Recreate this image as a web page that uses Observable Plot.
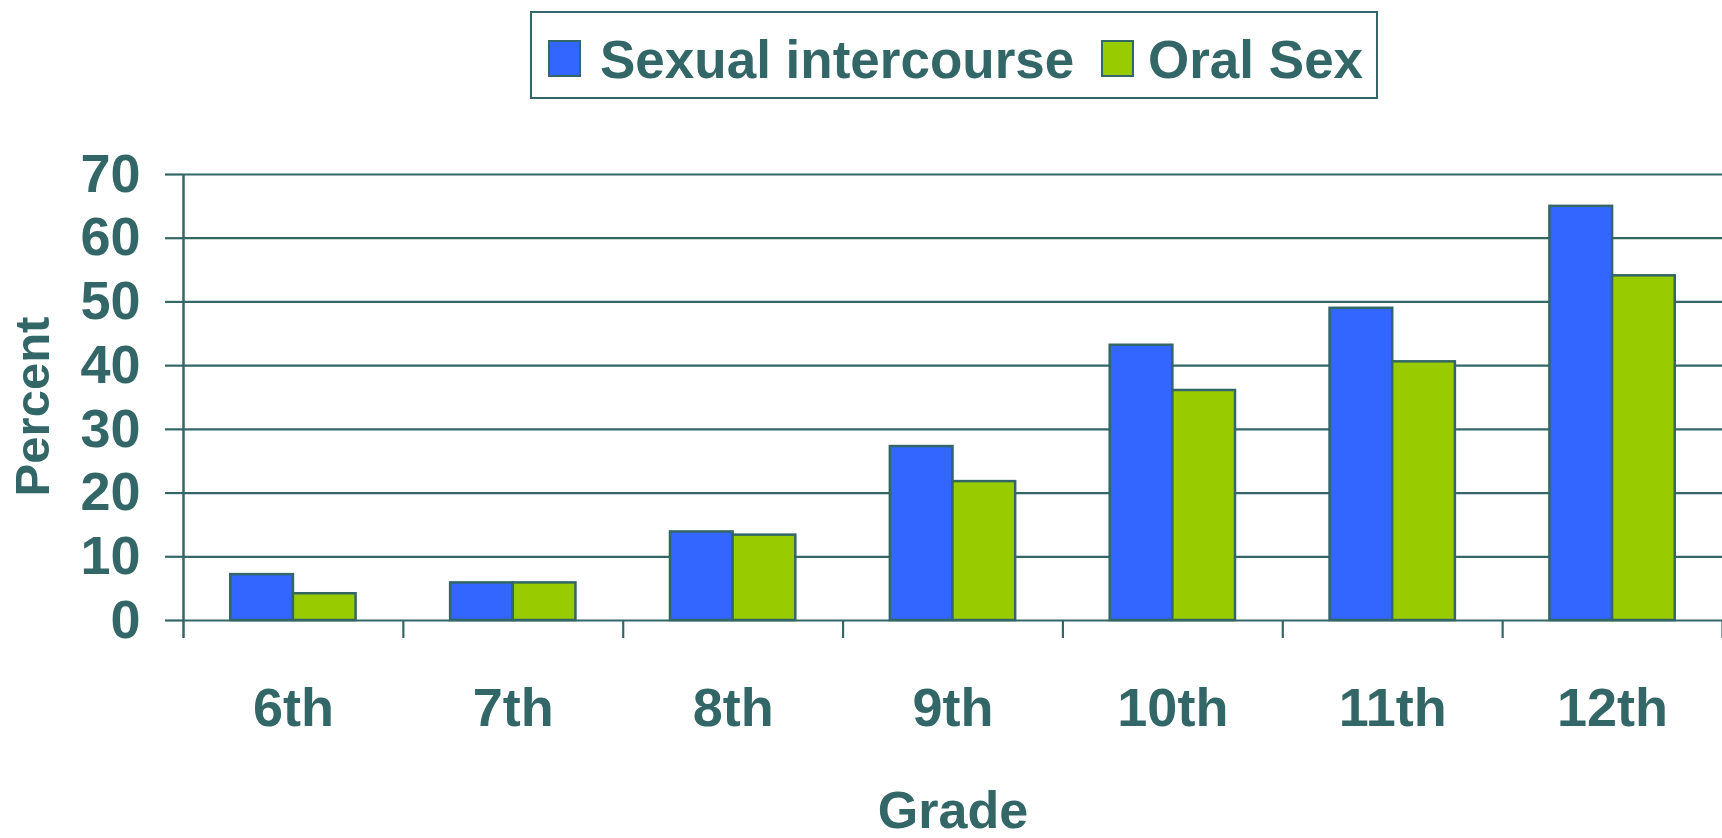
<!DOCTYPE html>
<html><head><meta charset="utf-8">
<script src="https://cdn.jsdelivr.net/npm/d3@7"></script>
<script src="https://cdn.jsdelivr.net/npm/@observablehq/plot@0.6"></script>
<style>
body{margin:0;background:#fff;}
#wrap{position:relative;width:1722px;height:838px;font-family:"Liberation Sans",Arial,sans-serif;font-weight:bold;color:#336666;overflow:hidden;}
#legend{position:absolute;left:530px;top:11px;width:844px;height:84px;border:2px solid #336666;background:#fff;z-index:2;}
.sw{position:absolute;top:27px;width:29px;height:33px;border:2px solid #336666;}
.lab{position:absolute;font-size:53px;line-height:1;top:20px;white-space:nowrap;}
#chart{position:absolute;left:0;top:0;}
</style></head>
<body>
<div id="wrap">
  <div id="legend"></div>
  <div id="chart"></div>
</div>
<script>
const grades = ["6th", "7th", "8th", "9th", "10th", "11th", "12th"];
const series = ["Sexual intercourse", "Oral Sex"];
const intercourse = [7.2, 5.9, 13.9, 27.3, 43.2, 49.0, 65.0];
const oralSex = [4.2, 5.9, 13.4, 21.8, 36.1, 40.6, 54.1];
const colors = ["#3366FF", "#99CC00"];
const yTicks = [0, 10, 20, 30, 40, 50, 60, 70];

const ink = "#336666";
const yMin = -2.825;
const gap = 0.215, barW = 0.285;

const values = [intercourse, oralSex];
const rows = [];
grades.forEach((g, i) => {
  series.forEach((s, k) => {
    rows.push({grade: g, series: s, value: values[k][i], x1: i + gap + k * barW, x2: i + gap + (k + 1) * barW});
  });
});
const boundaries = d3.range(1, grades.length + 1);

// legend
const legend = document.getElementById("legend");
const legendPos = [{sw: 16, lab: 68}, {sw: 569, lab: 616}];
series.forEach((s, k) => {
  const sw = document.createElement("div");
  sw.className = "sw";
  sw.style.left = legendPos[k].sw + "px";
  sw.style.background = colors[k];
  legend.appendChild(sw);
  const lab = document.createElement("div");
  lab.className = "lab";
  lab.style.left = legendPos[k].lab + "px";
  lab.textContent = s;
  legend.appendChild(lab);
});

const chart = Plot.plot({
  width: 1722,
  height: 838,
  marginLeft: 183,
  marginRight: 0,
  marginTop: 174,
  marginBottom: 200,
  style: {fontFamily: "'Liberation Sans', Arial, sans-serif", fontWeight: "bold", fontSize: "54px", color: ink, background: "transparent", overflow: "visible"},
  x: {type: "linear", domain: [0, grades.length]},
  y: {domain: [yMin, 70]},
  color: {domain: series, range: colors},
  marks: [
    Plot.ruleY(yTicks, {stroke: ink, strokeWidth: 2.2}),
    Plot.ruleX(boundaries, {y1: yMin, y2: 0, stroke: ink, strokeWidth: 2.2}),
    Plot.rect(rows, {x1: "x1", x2: "x2", y1: 0, y2: "value", fill: "series", stroke: ink, strokeWidth: 2.5}),
    Plot.ruleX([0], {stroke: ink, strokeWidth: 2.5}),
    Plot.axisY({ticks: yTicks, tickSize: 18, tickPadding: 25, strokeWidth: 2.2, label: null, fontSize: 54, fontWeight: "bold"}),
    Plot.axisX({ticks: grades.map((g, i) => i + 0.5), tickFormat: d => grades[Math.floor(d)], tickSize: 0, tickPadding: 49, label: null, fontSize: 54, fontWeight: "bold"}),
    Plot.text(["Percent"], {text: d => d, frameAnchor: "left", textAnchor: "middle", dx: -150, rotate: -90, fontSize: 49, fontWeight: "bold", fill: ink}),
    Plot.text(["Grade"], {text: d => d, frameAnchor: "bottom", textAnchor: "middle", dy: 189, lineAnchor: "bottom", fontSize: 52, fontWeight: "bold", fill: ink})
  ]
});
document.getElementById("chart").appendChild(chart);
</script>
</body></html>
